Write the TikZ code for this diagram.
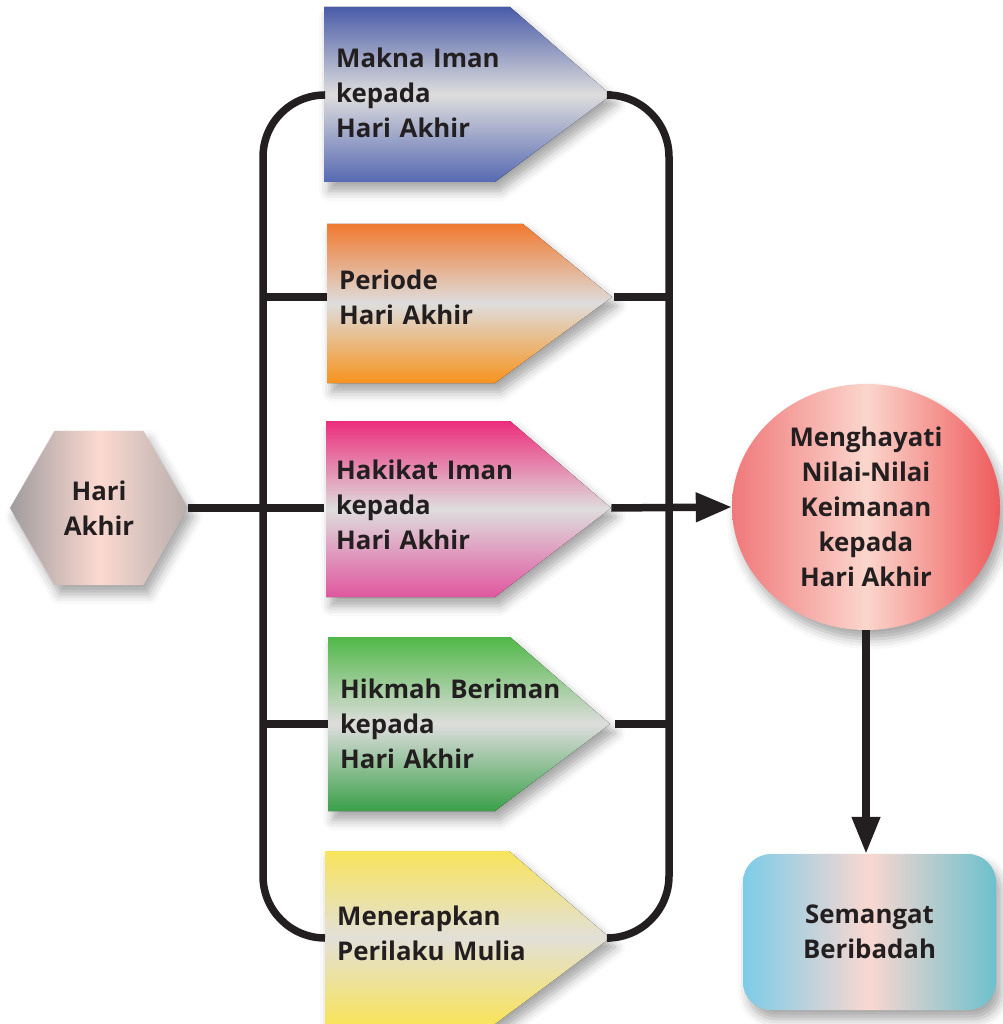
\documentclass[tikz,border=0pt]{standalone}
\usepackage{fontspec}
\setmainfont{Open Sans}
\usepackage{xcolor}
\usetikzlibrary{arrows.meta,shapes.geometric,shadows.blur}

\definecolor{ink}{HTML}{231F20}
\definecolor{midgray}{HTML}{DEDDDD}
\definecolor{blueT}{HTML}{4A5CA8}
\definecolor{blueB}{HTML}{5669B2}
\definecolor{orangeT}{HTML}{F07A30}
\definecolor{orangeB}{HTML}{F7931E}
\definecolor{pinkT}{HTML}{EC2D7C}
\definecolor{pinkB}{HTML}{E0579F}
\definecolor{greenT}{HTML}{50B848}
\definecolor{greenB}{HTML}{3AA049}
\definecolor{yellowT}{HTML}{F8E45C}
\definecolor{yellowM}{HTML}{E2E0D8}
\definecolor{hexL}{HTML}{A09C9D}
\definecolor{hexM}{HTML}{FCD9D1}
\definecolor{hexR}{HTML}{B7AEAC}
\definecolor{redL}{HTML}{F0787A}
\definecolor{redM}{HTML}{FBD6CC}
\definecolor{redR}{HTML}{EE5A5C}
\definecolor{cyanL}{HTML}{7CCCE8}
\definecolor{cyanM}{HTML}{FAD7D0}
\definecolor{cyanR}{HTML}{6CC0CD}

\tikzset{
  labelfont/.style={font=\bfseries\fontsize{25.8}{35}\selectfont, text=ink},
  boxtext/.style={labelfont, anchor=west, text width=263pt, inner xsep=12pt,
    inner ysep=0pt, align=left},
  softshadow/.style={blur shadow={shadow xshift=5pt, shadow yshift=-9pt,
    shadow opacity=35, shadow blur radius=10pt}},
  link/.style={line width=7.5pt, draw=ink},
  bigtip/.style={-{Triangle[length=36pt,width=28pt]}}
}

\begin{document}
\begin{tikzpicture}[x=1pt,y=-1pt]
\useasboundingbox (0,0) rectangle (1002,1024);

% left start
\node[regular polygon, regular polygon sides=6, minimum size=178pt,
  inner sep=0pt, labelfont, align=center, softshadow,
  left color=hexL, right color=hexR, middle color=hexM]
  (hari) at (99,508) {Hari\\Akhir};

% arrow boxes
\fill[softshadow, top color=blueT, bottom color=blueB, middle color=midgray]
  (324,7) -- (510,7) -- (611,95) -- (495,182) -- (324,182) -- cycle;
\node[boxtext] (makna) at (324,93) {Makna Iman\\kepada\\Hari Akhir};

\fill[softshadow, top color=orangeT, bottom color=orangeB, middle color=midgray]
  (327,224) -- (523,224) -- (612,297) -- (495,383) -- (327,383) -- cycle;
\node[boxtext] (periode) at (327,297) {Periode\\Hari Akhir};

\fill[softshadow, top color=pinkT, bottom color=pinkB, middle color=midgray]
  (326,421) -- (510,421) -- (611,508) -- (495,597) -- (326,597) -- cycle;
\node[boxtext, yshift=3pt] (hakikat) at (324,508) {Hakikat Iman\\kepada\\Hari Akhir};

\fill[softshadow, top color=greenT, bottom color=greenB, middle color=midgray]
  (328,637) -- (510,637) -- (610,724) -- (495,811) -- (328,811) -- cycle;
\node[boxtext] (hikmah) at (328,724) {Hikmah Beriman\\kepada\\Hari Akhir};

\fill[softshadow, top color=yellowT, bottom color=yellowT, middle color=yellowM]
  (325,851) -- (509,851) -- (610,938) -- (495,1024) -- (325,1024) -- cycle;
\node[boxtext, yshift=5pt] (menerapkan) at (325,938) {Menerapkan\\Perilaku Mulia};

% right side
\node[ellipse, minimum width=268pt, minimum height=246pt, inner sep=0pt,
  labelfont, align=center, softshadow,
  left color=redL, right color=redR, middle color=redM]
  (hayati) at (866,507) {Menghayati\\Nilai-Nilai\\Keimanan\\kepada\\Hari Akhir};

\node[rectangle, rounded corners=28pt, minimum width=253pt, minimum height=156pt,
  labelfont, align=center, softshadow,
  left color=cyanL, right color=cyanR, middle color=cyanM]
  (semangat) at (869.5,932) {Semangat\\Beribadah};

% brackets
\coordinate (lbar) at (263,0);
\coordinate (rbar) at (669,0);
\coordinate (ltop) at (324,95);
\coordinate (rtop) at (611,95);
\coordinate (lbot) at (325,938);
\coordinate (rbot) at (610,938);
\draw[link, rounded corners=62pt] (ltop) -- (ltop -| lbar)
  -- (lbot -| lbar) -- (lbot);
\draw[link, rounded corners=62pt] (rtop) -- (rtop -| rbar)
  -- (rbot -| rbar) -- (rbot);
\draw[link] (periode.west) -- (periode.west -| lbar);
\draw[link] (hikmah.west) -- (hikmah.west -| lbar);
\draw[link] (periode.east) -- (periode.east -| rbar);
\draw[link] (hikmah.east) -- (hikmah.east -| rbar);

% main flow
\draw[link] (hari.east) -- (hari.east -| hakikat.west);
\draw[link, bigtip] (hari.east -| hakikat.east) -- (hayati.west);
\draw[link, -{Triangle[length=37pt,width=27pt]}] (hayati.south)
  -- (hayati.south |- semangat.north);

\end{tikzpicture}
\end{document}
